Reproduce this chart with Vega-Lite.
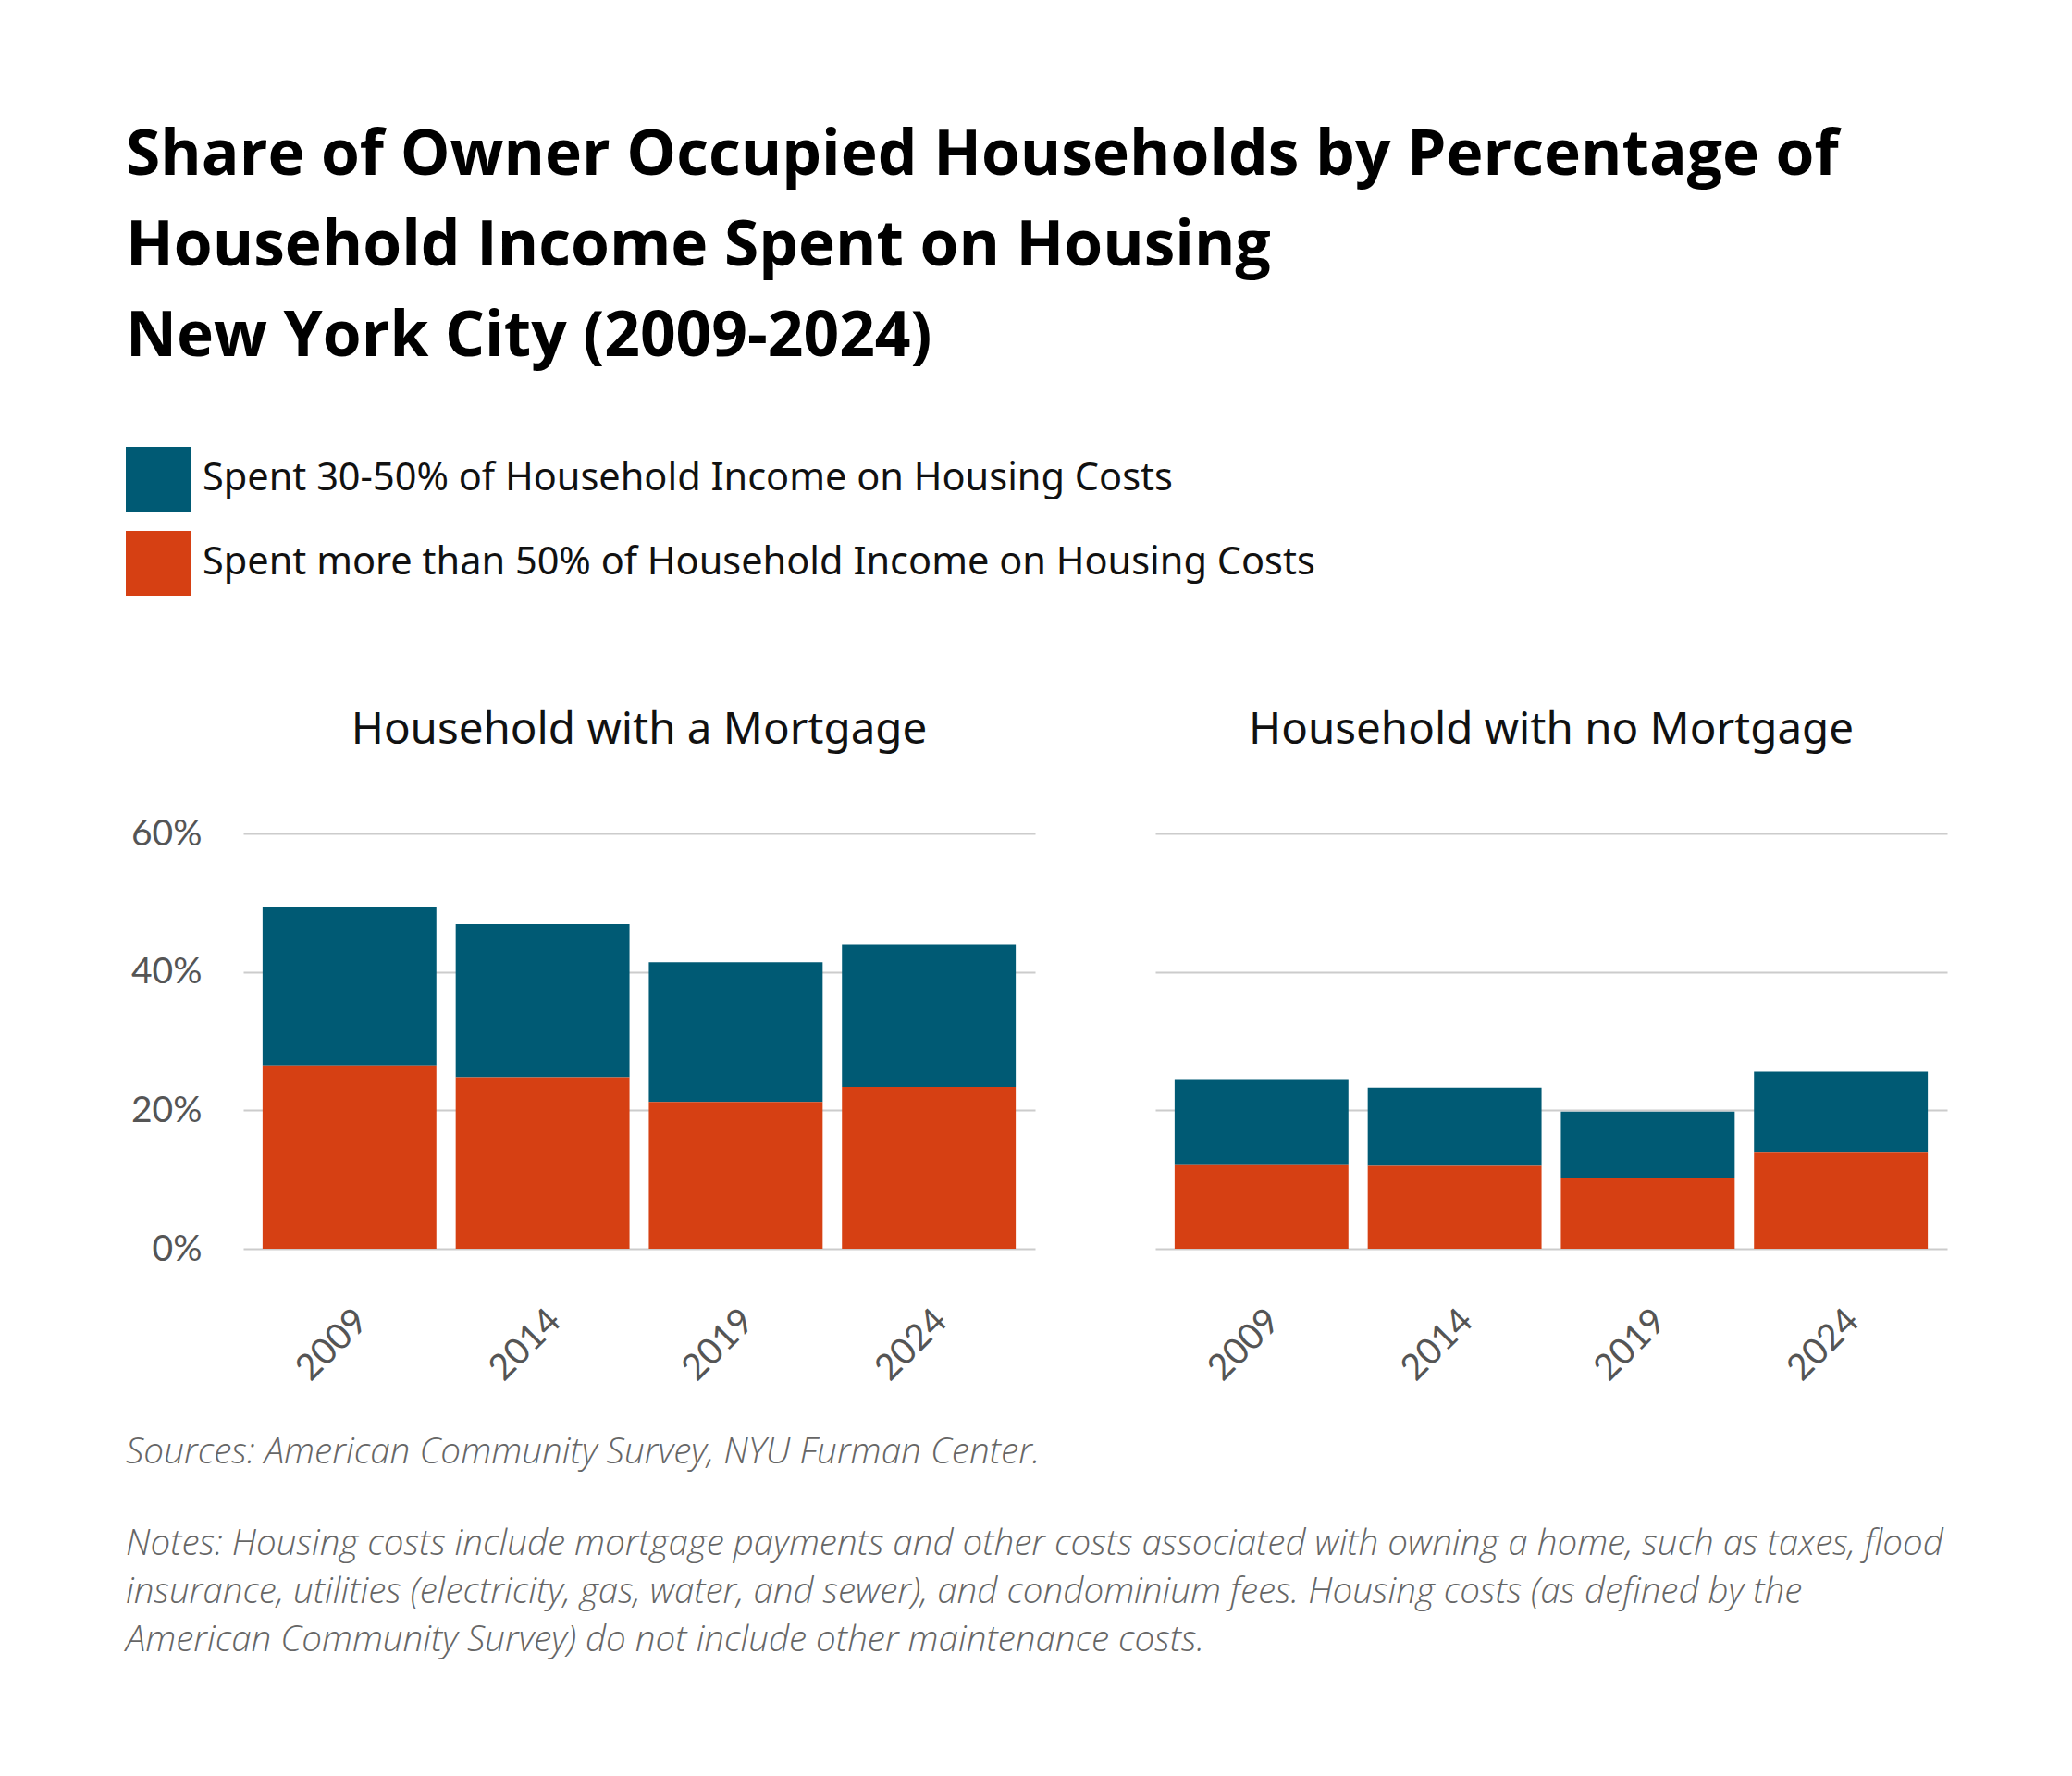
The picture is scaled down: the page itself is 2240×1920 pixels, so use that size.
{
  "$schema": "https://vega.github.io/schema/vega-lite/v6.json",
  "background": "white",
  "padding": {"left": 136, "top": 135, "right": 40, "bottom": 40},
  "config": {"view": {"stroke": null}, "font": "Noto Sans"},
  "title": {
    "text": ["Share of Owner Occupied Households by Percentage of", "Household Income Spent on Housing", "New York City (2009-2024)"],
    "anchor": "start",
    "font": "Open Sans",
    "fontWeight": "bold",
    "fontSize": 67.7,
    "lineHeight": 98,
    "color": "#000000",
    "offset": 83
  },
  "data": {
    "values": [
      {"year": "2009", "mortgage": "Household with a Mortgage", "category": "Spent 30-50% of Household Income on Housing Costs", "share": 22.9},
      {"year": "2014", "mortgage": "Household with a Mortgage", "category": "Spent 30-50% of Household Income on Housing Costs", "share": 22.1},
      {"year": "2019", "mortgage": "Household with a Mortgage", "category": "Spent 30-50% of Household Income on Housing Costs", "share": 20.2},
      {"year": "2024", "mortgage": "Household with a Mortgage", "category": "Spent 30-50% of Household Income on Housing Costs", "share": 20.5},
      {"year": "2009", "mortgage": "Household with a Mortgage", "category": "Spent more than 50% of Household Income on Housing Costs", "share": 26.5},
      {"year": "2014", "mortgage": "Household with a Mortgage", "category": "Spent more than 50% of Household Income on Housing Costs", "share": 24.8},
      {"year": "2019", "mortgage": "Household with a Mortgage", "category": "Spent more than 50% of Household Income on Housing Costs", "share": 21.2},
      {"year": "2024", "mortgage": "Household with a Mortgage", "category": "Spent more than 50% of Household Income on Housing Costs", "share": 23.4},
      {"year": "2009", "mortgage": "Household with no Mortgage", "category": "Spent 30-50% of Household Income on Housing Costs", "share": 12.2},
      {"year": "2014", "mortgage": "Household with no Mortgage", "category": "Spent 30-50% of Household Income on Housing Costs", "share": 11.2},
      {"year": "2019", "mortgage": "Household with no Mortgage", "category": "Spent 30-50% of Household Income on Housing Costs", "share": 9.6},
      {"year": "2024", "mortgage": "Household with no Mortgage", "category": "Spent 30-50% of Household Income on Housing Costs", "share": 11.6},
      {"year": "2009", "mortgage": "Household with no Mortgage", "category": "Spent more than 50% of Household Income on Housing Costs", "share": 12.2},
      {"year": "2014", "mortgage": "Household with no Mortgage", "category": "Spent more than 50% of Household Income on Housing Costs", "share": 12.1},
      {"year": "2019", "mortgage": "Household with no Mortgage", "category": "Spent more than 50% of Household Income on Housing Costs", "share": 10.2},
      {"year": "2024", "mortgage": "Household with no Mortgage", "category": "Spent more than 50% of Household Income on Housing Costs", "share": 14.0}
    ]
  },
  "spacing": 50,
  "vconcat": [
    {
      "facet": {
        "column": {
          "field": "mortgage",
          "type": "nominal",
          "title": null,
          "header": {"labelFontSize": 47.5, "labelFont": "Noto Sans", "labelColor": "#111111", "labelPadding": 88, "labelExpr": "datum.label + '\u00a0\u00a0\u00a0\u00a0\u00a0\u00a0\u00a0'"}
        }
      },
      "spacing": 130,
      "spec": {
        "width": 856,
        "height": 449,
        "mark": {"type": "bar"},
        "encoding": {
          "x": {
            "field": "year",
            "type": "ordinal",
            "scale": {"paddingInner": 0.1, "paddingOuter": 0.1},
            "axis": {"title": null, "labelAngle": -45, "domain": false, "ticks": false, "labelFontSize": 39, "labelColor": "#555555", "labelPadding": 58, "labelFont": "Lato"}
          },
          "y": {
            "field": "share",
            "type": "quantitative",
            "stack": "zero",
            "scale": {"domain": [0, 60]},
            "axis": {"title": null, "values": [0, 20, 40, 60], "labelExpr": "datum.value + '%'", "domain": false, "ticks": false, "gridColor": "#cccccc", "gridWidth": 2, "labelFontSize": 39, "labelColor": "#555555", "labelPadding": 45, "labelFont": "Lato"}
          },
          "color": {
            "field": "category",
            "type": "nominal",
            "scale": {"domain": ["Spent 30-50% of Household Income on Housing Costs", "Spent more than 50% of Household Income on Housing Costs"], "range": ["#005a74", "#d64013"]},
            "legend": {"title": null, "orient": "none", "legendX": -127, "legendY": -418, "direction": "vertical", "symbolType": "square", "symbolSize": 4900, "symbolStrokeWidth": 0, "symbolOpacity": 1, "labelFontSize": 41.5, "labelFont": "Noto Sans", "labelColor": "#111111", "rowPadding": 21, "labelOffset": 13, "labelLimit": 0}
          },
          "order": {"field": "category", "sort": "descending"}
        }
      }
    },
    {
      "width": 1,
      "height": 1,
      "data": {"values": []},
      "mark": {"type": "point"},
      "encoding": {},
      "title": {
        "text": "Sources: American Community Survey, NYU Furman Center.",
        "subtitle": ["Notes: Housing costs include mortgage payments and other costs associated with owning a home, such as taxes, flood", "insurance, utilities (electricity, gas, water, and sewer), and condominium fees. Housing costs (as defined by the", "American Community Survey) do not include other maintenance costs."],
        "anchor": "start",
        "font": "Open Sans",
        "fontStyle": "italic",
        "fontWeight": 300,
        "fontSize": 38.7,
        "color": "#666666",
        "subtitleFont": "Open Sans",
        "subtitleFontStyle": "italic",
        "subtitleFontWeight": 300,
        "subtitleFontSize": 38.6,
        "subtitleLineHeight": 52,
        "subtitleColor": "#666666",
        "subtitlePadding": 62,
        "limit": 2200,
        "offset": 0,
        "dx": -127
      }
    }
  ]
}
